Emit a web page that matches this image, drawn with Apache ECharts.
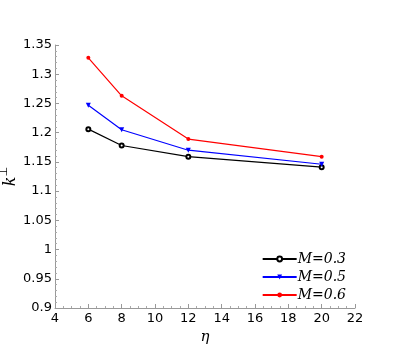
<!DOCTYPE html>
<html>
<head>
<meta charset="UTF-8">
<script src="https://cdn.jsdelivr.net/npm/echarts@6/dist/echarts.min.js"></script>
<style>
  body { margin: 0; background: #fff; }
  #chart { width: 407px; height: 353px; }
</style>
</head>
<body>
<div id="chart"></div>
<script>
// datos
const eta = [6, 8, 12, 20];
const m03 = [1.206, 1.178, 1.159, 1.141];
const m05 = [1.247, 1.205, 1.170, 1.146];
const m06 = [1.328, 1.263, 1.189, 1.159];
const seriesNames = ['M=0.3', 'M=0.5', 'M=0.6'];

const pairs = vals => eta.map((x, i) => [x, vals[i]]);
const font = 'DejaVu Sans';

const chart = echarts.init(document.getElementById('chart'));
chart.setOption({
  animation: false,
  grid: { left: 55, right: 52, top: 45, bottom: 45, outerBoundsMode: 'none', containLabel: false },
  xAxis: {
    type: 'value', min: 4, max: 22, interval: 2,
    name: 'η', nameLocation: 'middle', nameGap: 22, nameMoveOverlap: false,
    nameTextStyle: { fontFamily: 'DejaVu Serif', fontStyle: 'italic', fontSize: 15, color: '#000' },
    axisLine: { lineStyle: { color: '#999', width: 1 } },
    axisTick: { inside: true, length: 4, lineStyle: { color: '#999' } },
    minorTick: { show: true, splitNumber: 4, length: 2, lineStyle: { color: '#aaa' } },
    axisLabel: { color: '#000', fontFamily: font, fontSize: 13, margin: 4 },
    splitLine: { show: false }
  },
  yAxis: {
    type: 'value', min: 0.9, max: 1.35, interval: 0.05,
    name: '{k|k}{s|⊥}', nameLocation: 'middle', nameGap: 36, nameRotate: 90, nameMoveOverlap: false,
    nameTextStyle: {
      rich: {
        k: { fontFamily: 'DejaVu Serif', fontStyle: 'italic', fontSize: 16, color: '#000', lineHeight: 20, verticalAlign: 'bottom' },
        s: { fontFamily: 'DejaVu Sans', fontSize: 11, color: '#000', lineHeight: 20, verticalAlign: 'top' }
      }
    },
    axisLine: { show: true, lineStyle: { color: '#999', width: 1 } },
    axisTick: { show: true, inside: true, length: 4, lineStyle: { color: '#999' } },
    minorTick: { show: true, splitNumber: 5, length: 2, lineStyle: { color: '#aaa' } },
    axisLabel: { color: '#000', fontFamily: font, fontSize: 13, margin: 3 },
    splitLine: { show: false }
  },
  legend: {
    right: 56, bottom: 46, orient: 'vertical', itemGap: 4,
    itemWidth: 34, itemHeight: 6,
    textStyle: { fontFamily: 'DejaVu Serif', fontStyle: 'italic', fontSize: 14, color: '#000', padding: [0, 0, 0, -4] },
    data: seriesNames
  },
  series: [
    {
      name: seriesNames[0], type: 'line', data: pairs(m03),
      symbol: 'emptyCircle', symbolSize: 4,
      lineStyle: { color: '#000', width: 1.2 },
      itemStyle: { color: '#000', borderWidth: 1 }
    },
    {
      name: seriesNames[1], type: 'line', data: pairs(m05),
      symbol: 'triangle', symbolRotate: 180, symbolSize: 5,
      lineStyle: { color: '#0000ff', width: 1.2 },
      itemStyle: { color: '#0000ff' }
    },
    {
      name: seriesNames[2], type: 'line', data: pairs(m06),
      symbol: 'circle', symbolSize: 4,
      lineStyle: { color: '#ff0000', width: 1.2 },
      itemStyle: { color: '#ff0000' }
    }
  ]
});
</script>
</body>
</html>
